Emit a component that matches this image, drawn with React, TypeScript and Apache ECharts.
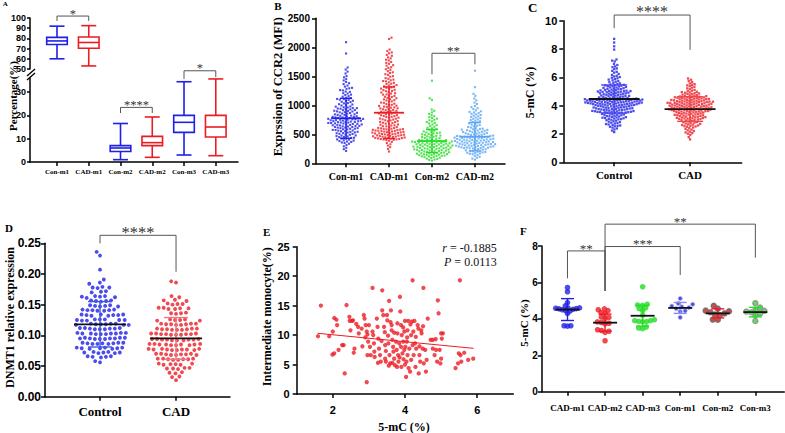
import React, { useEffect, useRef } from "react";
import * as echarts from "echarts";

const BLUE = "#1f1fe6";
const RED = "#ec1c24";
const GREEN = "#26dc26";
const LBLUE = "#5aa5f2";
const SERIF = '"Liberation Serif", "Times New Roman", serif';
const SANS = '"Liberation Sans", Arial, sans-serif';

// ---------- Panel A ----------
const aCats = ["Con-m1", "CAD-m1", "Con-m2", "CAD-m2", "Con-m3", "CAD-m3"];
const aPos = [1, 2, 3, 4, 5, 6];
const aTopTicks = [50, 60, 70, 80, 90, 100];
const aBotTicks = [0, 10, 20, 30];
// [min, Q1, median, Q3, max]
const aBoxes = [
  [60, 74, 77.5, 81, 92],
  [53, 70.3, 76, 81.4, 92.5],
  [1, 4.5, 6, 7, 16.5],
  [2, 7, 8.3, 11, 19.3],
  [3, 12.7, 17, 20, 34.4],
  [2.7, 10.7, 15, 20, 35.6],
];
const aColors = [BLUE, RED, BLUE, RED, BLUE, RED];
const aSigTop = [[1, 2, 101.9, 97.1, 97.1]];
const aSigTopLabels = ["*"];
const aSigBot = [
  [3, 4, 23.4, 21.0, 21.0],
  [5, 6, 39.1, 35.6, 36.4],
];
const aSigBotLabels = ["****", "*"];

// ---------- Panel B ----------
const bCats = ["Con-m1", "CAD-m1", "Con-m2", "CAD-m2"];
const bTicks = [0, 500, 1000, 1500, 2000, 2500];
const bConM1 = [
  2088, 1893, 1652, 1617, 1581, 1548, 1503, 1482, 1451, 1428,
  1402, 1381, 1366, 1341, 1323, 1301, 1293,
  1284, 1262, 1257, 1238, 1231, 1209, 1203, 1184, 1176, 1158, 1149, 1131, 1124, 1109, 1106, 1097,
  1093, 1079, 1074, 1061, 1055, 1038, 1033, 1019, 1014, 1001, 996, 981, 977, 966, 962, 953, 951, 944,
  942, 931, 929, 918, 916, 906, 904, 895, 893, 881, 879, 870, 868, 858, 857, 846, 844, 834, 832, 822, 819, 811, 809, 801,
  799, 792, 790, 783, 781, 774, 773, 767, 765, 759, 758, 751, 750, 743, 742, 736, 734, 727, 726, 719, 718, 712, 710, 703, 702, 695, 694, 688, 686, 680, 678, 671, 670, 663, 662, 655,
  653, 645, 644, 636, 634, 627, 626, 617, 615, 607, 605, 597, 596, 587, 585, 576, 574, 566, 563, 555, 553, 544, 541, 533, 530, 521, 518, 509, 506,
  497, 492, 481, 478, 469, 464, 455, 451, 441, 438, 427, 423, 412, 408, 397, 393, 384, 376, 368, 359, 351,
  338, 316, 293, 268, 243, 214,
];
const bCadM1 = [
  2166, 2143, 1961, 1934, 1912, 1897, 1869, 1853, 1826, 1809, 1786, 1774, 1748, 1731, 1716, 1692, 1683, 1657, 1645, 1621, 1611, 1588, 1569, 1558, 1536, 1524, 1502, 1493, 1468, 1457,
  1443, 1431, 1418, 1413, 1396, 1387, 1372, 1366, 1348, 1342, 1327, 1324, 1309, 1302, 1288, 1283, 1267, 1262, 1248, 1243, 1228, 1222, 1209, 1203, 1188, 1184, 1167, 1162, 1148, 1144, 1128, 1122, 1107, 1102, 1089, 1083, 1068, 1062, 1047, 1043, 1028, 1022, 1008, 1004,
  993, 989, 978, 973, 963, 959, 948, 946, 934, 931, 919, 916, 904, 901, 890, 886, 875, 872, 860, 857, 846, 842, 831, 828, 816, 813, 802, 798, 787, 784, 772, 769, 758, 754, 743, 739, 728, 725, 714, 710, 699, 695, 684, 681, 669, 666, 655, 651, 640, 637, 625, 622, 611, 607, 602,
  597, 594, 589, 586, 581, 578, 573, 570, 565, 562, 557, 554, 549, 546, 541, 538, 533, 530, 525, 522, 517, 514, 509, 506, 501, 498, 493, 490, 485, 482, 477, 474, 469, 466, 461, 458, 453, 450, 445, 442, 437, 434, 429, 426, 421, 418, 413, 410, 405, 402,
  388, 369, 351, 328, 306, 279, 248, 203,
];
const bConM2 = [
  1424, 1121, 1093, 928, 906, 877, 853, 829, 811,
  796, 781, 769, 751, 742, 723, 711, 697, 686, 668, 657, 641, 629, 613, 604, 588, 577, 561,
  549, 542, 533, 528, 519, 514, 505, 500, 491, 487, 478, 473, 464, 459, 451, 446, 437, 432, 424, 418, 411, 404,
  399, 397, 392, 389, 385, 384, 378, 375, 372, 368, 364, 361, 357, 356, 350, 347, 344, 339, 337, 333, 328, 326, 322, 319, 315, 313, 307, 305, 301, 298, 293, 291, 287, 283, 280, 277, 272, 270, 266, 262, 259, 257, 252, 249, 245, 241, 238, 234,
  229, 227, 221, 219, 214, 210, 206, 203, 197, 195, 190, 186, 182, 179, 173, 171, 166, 163, 158, 154, 150, 146, 141, 139, 134, 130, 126, 121, 118, 112,
  106, 97, 91, 81, 75, 64, 57, 44,
];
const bCadM2 = [
  1597, 1312, 1198, 1163, 1118, 1084, 1047, 1021,
  987, 968, 951, 934, 912,
  897, 887, 876, 866, 853, 844, 833, 822, 811, 800, 789, 778, 768, 757, 745, 736, 724, 713, 703, 691, 681, 669, 659, 648, 637, 626, 616, 605,
  597, 592, 587, 581, 576, 571, 566, 560, 555, 550, 545, 539, 534, 529, 524, 518, 513, 508, 503, 497, 492, 486,
  479, 477, 472, 470, 466, 463, 459, 456, 452, 450, 446, 442, 439, 436, 432, 429, 425, 422, 419, 415, 411, 409, 405, 402, 398, 395, 391, 388, 385, 381, 377, 375, 371, 367, 364, 361, 358, 354, 350, 347, 344, 341, 337, 334, 330, 327, 324, 320, 317, 313, 310, 307, 303, 300, 296, 293, 289, 286, 283, 279, 276, 272, 269, 266, 262, 259, 255,
  248, 242, 236, 230, 224, 218, 212, 206, 200, 194, 188, 182, 176, 170, 164, 157,
  146, 128, 112, 96, 81, 63,
];
const bMeans = [776, 872, 384, 459];
const bSds = [345, 445, 200, 245];
const bColors = [BLUE, RED, GREEN, LBLUE];
const bSig = [[3, 4, 1897, 1534, 1707]];
const bSigLabels = ["**"];

// ---------- Panel C ----------
const cCats = ["Control", "CAD"];
const cTicks = [0, 2, 4, 6, 8, 10];
const cControl = [
  8.72, 8.46, 8.19, 7.96, 7.26, 7.18, 7.12,
  6.94, 6.87, 6.77, 6.72, 6.63, 6.58, 6.46, 6.39, 6.33, 6.24, 6.17, 6.11, 6.06, 6.02,
  5.97, 5.93, 5.88, 5.84, 5.79, 5.73, 5.69, 5.66, 5.61, 5.57, 5.52,
  5.49, 5.47, 5.46, 5.43, 5.41, 5.38, 5.37, 5.35, 5.32, 5.29, 5.28, 5.26, 5.23, 5.21, 5.19, 5.18, 5.16, 5.13, 5.11, 5.09, 5.08, 5.06, 5.04, 5.03, 5.02, 5.01, 5.0,
  4.99, 4.97, 4.96, 4.95, 4.93, 4.92, 4.9, 4.88, 4.87, 4.85, 4.84, 4.82, 4.8, 4.79, 4.77, 4.76, 4.74, 4.72, 4.71, 4.69, 4.68, 4.66, 4.64, 4.63, 4.61, 4.6, 4.58, 4.57, 4.55, 4.54, 4.52, 4.51, 4.5,
  4.49, 4.48, 4.47, 4.46, 4.46, 4.45, 4.44, 4.43, 4.42, 4.41, 4.41, 4.4, 4.39, 4.38, 4.37, 4.36, 4.36, 4.35, 4.34, 4.33, 4.32, 4.31, 4.31, 4.3, 4.29, 4.28, 4.27, 4.26, 4.26, 4.25, 4.24, 4.23, 4.22, 4.21, 4.21, 4.2, 4.19, 4.18, 4.17, 4.16, 4.16, 4.15, 4.14, 4.13, 4.12, 4.11, 4.11, 4.1, 4.09, 4.08, 4.07, 4.06, 4.05, 4.04, 4.03, 4.02, 4.01,
  3.99, 3.98, 3.97, 3.96, 3.95, 3.93, 3.92, 3.91, 3.9, 3.88, 3.87, 3.86, 3.85, 3.83, 3.82, 3.81, 3.8, 3.78, 3.77, 3.76, 3.75, 3.73, 3.72, 3.71, 3.7, 3.68, 3.67, 3.66, 3.65, 3.63, 3.62, 3.61, 3.6, 3.58, 3.57, 3.56, 3.55, 3.54, 3.53, 3.52, 3.51, 3.5,
  3.48, 3.46, 3.44, 3.42, 3.4, 3.38, 3.36, 3.34, 3.32, 3.29, 3.27, 3.25, 3.23, 3.21, 3.19, 3.17, 3.15, 3.13, 3.11, 3.09, 3.07, 3.05, 3.03, 3.01,
  2.97, 2.94, 2.9, 2.87, 2.84, 2.8, 2.77, 2.74, 2.7, 2.67, 2.64, 2.6, 2.57, 2.54, 2.51,
  2.45, 2.39, 2.32, 2.24, 2.13,
];
const cCad = [
  5.92, 5.83, 5.74, 5.66,
  5.57, 5.52, 5.47, 5.43, 5.38, 5.33, 5.27, 5.22, 5.16, 5.11, 5.06, 5.02,
  4.98, 4.96, 4.93, 4.91, 4.88, 4.86, 4.83, 4.81, 4.78, 4.76, 4.73, 4.71, 4.69, 4.67, 4.65, 4.63, 4.62, 4.6,
  4.59, 4.58, 4.56, 4.55, 4.54, 4.53, 4.51, 4.5, 4.49, 4.47, 4.46, 4.45, 4.44, 4.42, 4.41, 4.4, 4.38, 4.37, 4.36, 4.35, 4.33, 4.32, 4.31, 4.3,
  4.29, 4.28, 4.28, 4.26, 4.25, 4.25, 4.23, 4.22, 4.2, 4.2, 4.19, 4.17, 4.17, 4.16, 4.14, 4.13, 4.13, 4.11, 4.1, 4.1, 4.08, 4.07, 4.05, 4.05, 4.04, 4.02, 4.01, 4.0, 4.0, 3.98, 3.97, 3.96, 3.95, 3.93, 3.93, 3.91, 3.9, 3.89, 3.88, 3.86, 3.86, 3.85, 3.83, 3.82, 3.81, 3.8, 3.79, 3.77, 3.77, 3.75, 3.74, 3.73, 3.72, 3.71, 3.69, 3.69, 3.67, 3.66, 3.65, 3.64, 3.62, 3.62, 3.61, 3.6,
  3.59, 3.57, 3.56, 3.54, 3.53, 3.51, 3.5, 3.48, 3.46, 3.45, 3.43, 3.42, 3.4, 3.38, 3.37, 3.35, 3.34, 3.32, 3.3, 3.29, 3.27, 3.26, 3.24, 3.22, 3.21, 3.19, 3.18, 3.16, 3.14, 3.13, 3.11, 3.1, 3.08, 3.06, 3.05, 3.03, 3.02, 3.0,
  2.97, 2.94, 2.91, 2.88, 2.85, 2.83, 2.8, 2.77, 2.74, 2.71, 2.68, 2.66, 2.63, 2.6, 2.58, 2.55, 2.53, 2.51,
  2.46, 2.41, 2.36, 2.31, 2.26, 2.21, 2.16, 2.11, 2.06, 2.02,
  1.93, 1.78, 1.62,
];
const cMeans = [4.47, 3.76];
const cSds = [0.99, 0.87];
const cSig = [[1, 2, 10.4, 9.47, 7.94]];
const cSigLabels = ["****"];

// ---------- Panel D ----------
const dCats = ["Control", "CAD"];
const dTicks = [0, 0.05, 0.1, 0.15, 0.2, 0.25];
const dControl = [
  0.236, 0.23, 0.207, 0.191, 0.186, 0.184,
  0.179, 0.178, 0.177, 0.178,
  0.172, 0.17, 0.171,
  0.164, 0.163, 0.162, 0.164, 0.163, 0.161,
  0.157, 0.156, 0.155, 0.156, 0.157,
  0.149, 0.148, 0.147, 0.148, 0.149, 0.147,
  0.142, 0.141, 0.14, 0.141, 0.142, 0.14, 0.141,
  0.134, 0.133, 0.132, 0.133, 0.134, 0.132, 0.133, 0.134,
  0.126, 0.125, 0.124, 0.125, 0.126, 0.124, 0.125, 0.126,
  0.119, 0.118, 0.117, 0.118, 0.119, 0.117, 0.118, 0.119, 0.117,
  0.112, 0.111, 0.11, 0.111, 0.112, 0.11, 0.111, 0.112, 0.11,
  0.104, 0.103, 0.102, 0.103, 0.104, 0.102, 0.103, 0.104, 0.102, 0.103,
  0.096, 0.095, 0.094, 0.095, 0.096, 0.094, 0.095, 0.096, 0.094, 0.095,
  0.088, 0.087, 0.086, 0.087, 0.088, 0.086, 0.087, 0.088, 0.086,
  0.08, 0.079, 0.078, 0.079, 0.08, 0.078, 0.079, 0.08,
  0.073, 0.072, 0.071, 0.072, 0.073, 0.071, 0.072,
  0.066, 0.065, 0.064, 0.065, 0.066,
  0.058, 0.056,
];
const dCad = [
  0.188, 0.186,
  0.164, 0.162,
  0.158, 0.157, 0.156,
  0.151, 0.15, 0.151, 0.152,
  0.145, 0.144, 0.143, 0.144, 0.145, 0.143,
  0.137, 0.136, 0.135, 0.136,
  0.126, 0.125, 0.124, 0.125, 0.126, 0.124,
  0.119, 0.118, 0.117, 0.118, 0.119, 0.117, 0.118, 0.119,
  0.111, 0.11, 0.109, 0.11, 0.111, 0.109, 0.11, 0.111, 0.109,
  0.103, 0.102, 0.101, 0.102, 0.103, 0.101, 0.102, 0.103, 0.101, 0.102,
  0.094, 0.093, 0.092, 0.093, 0.094, 0.092, 0.093, 0.094, 0.092, 0.093,
  0.086, 0.085, 0.084, 0.085, 0.086, 0.084, 0.085, 0.086, 0.084, 0.085,
  0.078, 0.077, 0.076, 0.077, 0.078, 0.076, 0.077, 0.078, 0.076, 0.077,
  0.07, 0.069, 0.068, 0.069, 0.07, 0.068, 0.069, 0.07, 0.068,
  0.062, 0.061, 0.06, 0.061, 0.062, 0.06, 0.061, 0.062,
  0.054, 0.053, 0.052, 0.053, 0.054, 0.052,
  0.047, 0.046, 0.045, 0.046, 0.047,
  0.04, 0.039, 0.038,
  0.033, 0.032,
  0.027,
];
const dMeans = [0.118, 0.095];
const dSds = [0.037, 0.034];
const dSig = [[1, 2, 0.263, 0.25, 0.2036]];
const dSigLabels = ["****"];

// ---------- Panel E ----------
const eXTicks = [2, 4, 6];
const eYTicks = [0, 5, 10, 15, 20, 25];
const ePoints = [
  [1.59, 9.8], [1.67, 15.0], [1.9, 9.8], [2.0, 10.6], [2.04, 12.9], [2.1, 12.6], [2.12, 11.7], [1.99, 6.7], [2.04, 6.9], [2.16, 7.5],
  [2.26, 8.3], [2.3, 8.3], [2.33, 3.5], [2.38, 15.1], [2.46, 13.1], [2.47, 12.4], [2.49, 10.8], [2.53, 12.4], [2.56, 12.5], [2.6, 7.7],
  [2.58, 7.0], [2.7, 11.4], [2.72, 10.3], [2.8, 11.1], [2.82, 8.1], [2.86, 13.4], [2.88, 12.8], [2.91, 11.7], [2.94, 10.6], [2.96, 10.1],
  [2.98, 8.9], [2.96, 6.6], [2.94, 2.0], [3.0, 11.7], [3.03, 8.0], [3.05, 6.6], [3.1, 18.0], [3.1, 10.6], [3.12, 10.0], [3.14, 8.6],
  [3.16, 6.3], [3.22, 12.8], [3.24, 11.4], [3.26, 9.4], [3.28, 7.7], [3.31, 6.6], [3.33, 5.5], [3.37, 17.6], [3.37, 14.2], [3.4, 13.4],
  [3.42, 11.4], [3.44, 10.5], [3.45, 8.3], [3.47, 7.3], [3.47, 5.5], [3.5, 13.4], [3.51, 12.5], [3.53, 9.9], [3.54, 8.6], [3.56, 15.8],
  [3.57, 6.6], [3.59, 5.2], [3.61, 14.2], [3.63, 11.7], [3.63, 10.8], [3.65, 9.2], [3.67, 8.0], [3.68, 7.2], [3.7, 6.0], [3.72, 4.9],
  [3.75, 8.9], [3.77, 7.5], [3.79, 12.0], [3.79, 10.3], [3.81, 6.6], [3.82, 5.5], [3.84, 8.6], [3.86, 16.5], [3.87, 14.0], [3.89, 11.7],
  [3.89, 8.0], [3.9, 4.6], [3.91, 10.0], [3.93, 6.9], [3.95, 8.9], [3.96, 5.9], [3.98, 10.6], [3.98, 7.5], [4.0, 12.4], [4.01, 8.0],
  [4.03, 2.9], [4.04, 5.5], [4.05, 8.9], [4.07, 10.8], [4.07, 6.6], [4.09, 12.4], [4.1, 4.4], [4.12, 7.7], [4.14, 3.8], [4.17, 10.0],
  [4.17, 5.8], [4.19, 12.3], [4.21, 19.3], [4.21, 8.3], [4.23, 10.6], [4.24, 6.6], [4.26, 12.4], [4.28, 8.6], [4.29, 4.6], [4.31, 7.7],
  [4.35, 11.7], [4.37, 11.1], [4.38, 3.5], [4.4, 6.6], [4.42, 5.5], [4.45, 10.8], [4.46, 10.3], [4.49, 7.7], [4.51, 18.0], [4.52, 5.2],
  [4.56, 7.5], [4.58, 3.8], [4.63, 12.8], [4.71, 9.2], [4.77, 9.2], [4.77, 7.7], [4.82, 6.6], [4.86, 7.5], [4.89, 5.5], [4.91, 15.9],
  [4.93, 13.7], [4.96, 7.5], [4.98, 5.2], [5.0, 6.0], [5.0, 10.3], [5.02, 9.4], [5.05, 10.3], [5.4, 4.4], [5.47, 5.2], [5.49, 6.9],
  [5.52, 19.3], [5.54, 6.6], [5.56, 5.5], [5.64, 7.0], [5.75, 5.8], [5.89, 6.0], [3.78, 4.6], [3.35, 9.0], [3.6, 12.2], [3.7, 10.4],
  [3.85, 6.2], [3.95, 11.3], [4.06, 9.6], [4.15, 11.8], [4.3, 9.7], [4.4, 8.1], [3.25, 5.3], [3.55, 4.8], [4.0, 5.0], [4.6, 5.8],
  [3.15, 7.2], [2.9, 9.6], [2.65, 11.9], [4.5, 11.5], [4.85, 9.3], [3.45, 6.0], [3.65, 5.3],
];
const eLineX = [1.58, 5.9];
const eLineY = [10.3, 7.75];

// ---------- Panel F ----------
const fCats = ["CAD-m1", "CAD-m2", "CAD-m3", "Con-m1", "Con-m2", "Con-m3"];
const fTicks = [0, 2, 4, 6, 8];
const fCadM1 = [5.72, 5.49, 4.89, 4.71, 4.6, 4.6, 4.58, 4.56, 4.55, 4.52, 4.5, 4.46, 4.43, 4.3, 3.62, 3.62, 3.6];
const fCadM2 = [4.55, 4.5, 4.45, 4.35, 4.3, 4.1, 4.08, 4.02, 3.83, 3.8, 3.76, 3.72, 3.4, 3.36, 3.32, 3.26, 2.8];
const fCadM3 = [5.76, 4.8, 4.76, 4.74, 4.6, 4.56, 4.45, 4.2, 3.95, 3.9, 3.9, 3.86, 3.85, 3.84, 3.55, 3.5, 3.46];
const fConM1 = [5.12, 4.85, 4.8, 4.7, 4.66, 4.62, 4.56, 4.44, 4.4, 4.08];
const fConM2 = [4.72, 4.56, 4.45, 4.42, 4.36, 4.3, 4.24, 4.2, 3.96, 3.95];
const fConM3 = [4.86, 4.62, 4.5, 4.44, 4.4, 4.36, 4.3, 4.2, 3.88];
const fMeans = [4.51, 3.79, 4.17, 4.6, 4.3, 4.37];
const fSds = [0.6, 0.47, 0.57, 0.3, 0.25, 0.26];
const fSig = [
  [1, 2, 7.73, 6.23, 5.53],
  [2, 4, 7.97, 5.53, 6.41],
  [2, 6, 9.2, 5.53, 7.36],
];
const fSigLabels = ["**", "***", "**"];

// ---------- layout ----------
const GRIDS: any = {
  aTop: { left: 30, top: 18, width: 208, height: 51 },
  aBot: { left: 30, top: 78, width: 208, height: 84 },
  b: { left: 316, top: 18.3, width: 189, height: 145 },
  c: { left: 563.3, top: 20.7, width: 178.4, height: 141.6 },
  d: { left: 45, top: 243.3, width: 185, height: 153.4 },
  e: { left: 296.7, top: 246.7, width: 216.6, height: 147.3 },
  f: { left: 541.7, top: 246, width: 242.6, height: 145.7 },
};
const XR: any = { aTop: [0.15, 6.7], aBot: [0.15, 6.7], b: [0.3, 4.7], c: [0.33, 2.68], d: [0.276, 2.71], e: [1, 7], f: [0.314, 6.77] };
const YR: any = { aTop: [50, 100], aBot: [0, 36], b: [0, 2500], c: [0, 10], d: [0, 0.25], e: [0, 25], f: [0, 8] };
const KEYS = ["aTop", "aBot", "b", "c", "d", "e", "f"];
const BRACKET = "#555555";

function swarm(vals: number[], pos: number, key: string, diam: number) {
  const g = GRIDS[key];
  const xpx = g.width / (XR[key][1] - XR[key][0]);
  const ypx = g.height / (YR[key][1] - YR[key][0]);
  const sorted = vals.slice().sort((a, b) => a - b);
  const placed: { x: number; y: number }[] = [];
  const out: number[][] = [];
  let side = 1;
  for (const v of sorted) {
    const y = v * ypx;
    const iv: number[][] = [];
    for (let k = placed.length - 1; k >= 0; k--) {
      const dy = y - placed[k].y;
      if (dy >= diam) break;
      const dx = Math.sqrt(diam * diam - dy * dy);
      iv.push([placed[k].x - dx, placed[k].x + dx]);
    }
    const cands = [0];
    iv.forEach(([a, b]) => cands.push(a, b));
    cands.sort((p, q) => Math.abs(p) - Math.abs(q) || side * (q - p));
    let x = 0;
    for (const c of cands) {
      if (iv.every(([a, b]) => c <= a + 1e-6 || c >= b - 1e-6)) { x = c; break; }
    }
    side = -side;
    placed.push({ x, y });
    out.push([pos + x / xpx, v]);
  }
  return out;
}

function xAx(gi: number, key: string, ticks: number[], names: string[] | null, fontSize: number, margin: number, show = true) {
  return {
    type: "value", gridIndex: gi, min: XR[key][0], max: XR[key][1], show,
    splitLine: { show: false },
    axisLine: { show: true, onZero: false, lineStyle: { color: "#000", width: 1.5 } },
    axisTick: { show: true, length: 4, customValues: ticks, lineStyle: { color: "#000", width: 1.5 } },
    axisLabel: {
      show: true, customValues: ticks, margin, color: "#000", fontWeight: "bold",
      fontFamily: names ? SERIF : SANS, fontSize,
      formatter: (v: number) => {
        if (!names) return String(v);
        const i = ticks.findIndex((t) => Math.abs(t - v) < 1e-6);
        return i >= 0 ? names[i] : "";
      },
    },
  };
}

function yAx(gi: number, key: string, ticks: number[], fontSize: number, margin: number, tickLen: number, fmt?: (v: number) => string) {
  return {
    type: "value", gridIndex: gi, min: YR[key][0], max: YR[key][1],
    splitLine: { show: false },
    axisLine: { show: true, onZero: false, lineStyle: { color: "#000", width: 1.5 } },
    axisTick: { show: true, length: tickLen, customValues: ticks, lineStyle: { color: "#000", width: 1.5 } },
    axisLabel: {
      show: true, customValues: ticks, margin, color: "#000", fontWeight: "bold", fontFamily: SANS, fontSize,
      formatter: fmt || ((v: number) => String(v)),
    },
  };
}

function boxSeries(gi: number, items: number[][], colors: string[]) {
  return {
    type: "custom", xAxisIndex: gi, yAxisIndex: gi, silent: true, z: 3, data: items,
    itemStyle: { color: colors[0] },
    renderItem: (params: any, api: any) => {
      const i = params.dataIndex;
      const x = api.value(0);
      const ys = [1, 2, 3, 4, 5].map((k) => api.coord([x, api.value(k)])[1]);
      const [mn, q1, md, q3, mx] = ys;
      const cx = api.coord([x, api.value(3)])[0];
      const st = { stroke: colors[i], lineWidth: 1.6, fill: "none" };
      const hw = 10.3, cw = 7.5;
      return {
        type: "group",
        children: [
          { type: "rect", shape: { x: cx - hw, y: q3, width: 2 * hw, height: q1 - q3 }, style: st },
          { type: "line", shape: { x1: cx - hw, y1: md, x2: cx + hw, y2: md }, style: st },
          { type: "line", shape: { x1: cx, y1: q3, x2: cx, y2: mx }, style: st },
          { type: "line", shape: { x1: cx, y1: q1, x2: cx, y2: mn }, style: st },
          { type: "line", shape: { x1: cx - cw, y1: mx, x2: cx + cw, y2: mx }, style: st },
          { type: "line", shape: { x1: cx - cw, y1: mn, x2: cx + cw, y2: mn }, style: st },
        ],
      };
    },
  };
}

function bracketSeries(gi: number, items: number[][], labels: string[], fontSize: number) {
  return {
    type: "custom", xAxisIndex: gi, yAxisIndex: gi, silent: true, z: 6, data: items,
    itemStyle: { color: BRACKET },
    renderItem: (params: any, api: any) => {
      const x1 = api.value(0), x2 = api.value(1), yt = api.value(2), d1 = api.value(3), d2 = api.value(4);
      const p1 = api.coord([x1, yt]), p2 = api.coord([x2, yt]);
      const q1 = api.coord([x1, d1]), q2 = api.coord([x2, d2]);
      return {
        type: "group",
        children: [
          { type: "polyline", shape: { points: [q1, p1, p2, q2] }, style: { stroke: BRACKET, lineWidth: 1, fill: "none" } },
          {
            type: "text",
            style: {
              text: labels[params.dataIndex], x: (p1[0] + p2[0]) / 2, y: p1[1] - fontSize * 0.2,
              align: "center", verticalAlign: "middle",
              fontSize, fontFamily: SERIF, fill: "#333333",
            },
          },
        ],
      };
    },
  };
}

function meanSdSeries(gi: number, data: number[][], meanColors: string[], sdColors: string[], meanHalf: number, capHalf: number) {
  return {
    type: "custom", xAxisIndex: gi, yAxisIndex: gi, silent: true, z: 5, data,
    itemStyle: { color: "#111111" },
    renderItem: (params: any, api: any) => {
      const i = params.dataIndex;
      const x = api.value(0), m = api.value(1), s = api.value(2);
      const c = api.coord([x, m]), t = api.coord([x, m + s]), b = api.coord([x, m - s]);
      const sd = { stroke: sdColors[i], lineWidth: 1.4 };
      return {
        type: "group",
        children: [
          { type: "line", shape: { x1: t[0], y1: t[1], x2: b[0], y2: b[1] }, style: sd },
          { type: "line", shape: { x1: t[0] - capHalf, y1: t[1], x2: t[0] + capHalf, y2: t[1] }, style: sd },
          { type: "line", shape: { x1: b[0] - capHalf, y1: b[1], x2: b[0] + capHalf, y2: b[1] }, style: sd },
          { type: "line", shape: { x1: c[0] - meanHalf, y1: c[1], x2: c[0] + meanHalf, y2: c[1] }, style: { stroke: meanColors[i], lineWidth: 1.8 } },
        ],
      };
    },
  };
}

function dots(gi: number, key: string, vals: number[], pos: number, diam: number, symbol: string, size: number, itemStyle: any) {
  return {
    type: "scatter", xAxisIndex: gi, yAxisIndex: gi, silent: true, z: 2,
    symbol, symbolSize: size, itemStyle,
    data: swarm(vals, pos, key, diam),
  };
}

function buildOption() {
  const series: any[] = [];
  // A
  series.push(boxSeries(0, aBoxes.slice(0, 2).map((b, i) => [aPos[i], ...b]), aColors.slice(0, 2)));
  series.push(bracketSeries(0, aSigTop, aSigTopLabels, 12.5));
  series.push(boxSeries(1, aBoxes.slice(2).map((b, i) => [aPos[i + 2], ...b]), aColors.slice(2)));
  series.push(bracketSeries(1, aSigBot, aSigBotLabels, 12.5));
  // B
  [bConM1, bCadM1, bConM2, bCadM2].forEach((vals, i) =>
    series.push(dots(2, "b", vals, i + 1, 2.8, "rect", 2.1, { color: bColors[i] }))
  );
  series.push(meanSdSeries(2, bMeans.map((m, i) => [i + 1, m, bSds[i]]), bColors, bColors, 15, 6));
  series.push(bracketSeries(2, bSig, bSigLabels, 13));
  // C
  series.push(dots(3, "c", cControl, 1, 2.65, "rect", 2.3, { color: BLUE }));
  series.push(dots(3, "c", cCad, 2, 2.65, "rect", 2.3, { color: RED }));
  series.push(meanSdSeries(3, cMeans.map((m, i) => [i + 1, m, cSds[i]]), ["#111", "#111"], ["#4545f0", "#f04545"], 25.5, 13));
  series.push(bracketSeries(3, cSig, cSigLabels, 16));
  // D
  series.push(dots(4, "d", dControl, 1, 5, "circle", 3.9, { color: BLUE }));
  series.push(dots(4, "d", dCad, 2, 5, "circle", 3.9, { color: RED }));
  series.push(meanSdSeries(4, dMeans.map((m, i) => [i + 1, m, dSds[i]]), ["#111", "#111"], ["#3d5be0", "#e8798a"], 26, 12));
  series.push(bracketSeries(4, dSig, dSigLabels, 16.5));
  // E
  series.push({
    type: "scatter", xAxisIndex: 5, yAxisIndex: 5, silent: true, z: 2,
    symbol: "circle", symbolSize: 4.3, itemStyle: { color: RED }, data: ePoints,
  });
  series.push({
    type: "line", xAxisIndex: 5, yAxisIndex: 5, silent: true, z: 3, symbol: "none",
    lineStyle: { color: RED, width: 1 }, data: eLineX.map((x, i) => [x, eLineY[i]]),
  });
  // F
  const fGroups = [fCadM1, fCadM2, fCadM3, fConM1, fConM2, fConM3];
  const fStyles = [
    { diam: 3.4, size: 5.6, style: { color: BLUE } },
    { diam: 4, size: 5.6, style: { color: RED } },
    { diam: 4, size: 5.6, style: { color: GREEN } },
    { diam: 5, size: 4.2, style: { color: BLUE, borderColor: "#bcc0ee", borderWidth: 1 } },
    { diam: 5, size: 5.2, style: { color: "#c41e1e", borderColor: "#666", borderWidth: 1.3 } },
    { diam: 5, size: 5.2, style: { color: "#3ad23a", borderColor: "#8a8a8a", borderWidth: 1.3 } },
  ];
  fGroups.forEach((vals, i) =>
    series.push(dots(6, "f", vals, i + 1, fStyles[i].diam, "circle", fStyles[i].size, fStyles[i].style))
  );
  series.push(meanSdSeries(6, fMeans.map((m, i) => [i + 1, m, fSds[i]]), fCats.map(() => "#111"), [BLUE, RED, GREEN, "#8a8af0", RED, GREEN], 12, 6.5));
  series.push(bracketSeries(6, fSig, fSigLabels, 13));

  const rot = (text: string, x: number, y: number, size: number) => ({
    type: "text", x, y, rotation: Math.PI / 2, silent: true,
    style: { text, font: `bold ${size}px ${SERIF}`, textAlign: "center", textVerticalAlign: "middle", fill: "#000" },
  });
  const letter = (text: string, x: number, y: number, size: number) => ({
    type: "text", x, y, silent: true,
    style: { text, font: `bold ${size}px ${SERIF}`, textAlign: "left", textVerticalAlign: "middle", fill: "#000" },
  });
  const graphic = [
    rot("Percentage(%)", 12.7, 96, 11),
    rot("Exprssion of CCR2 (MFI)", 278.3, 86.7, 12.5),
    rot("5-mC (%)", 530, 92.5, 12),
    rot("DNMT1 relative expression", 9.5, 317.5, 12),
    rot("Intermediate monocyte(%)", 266.7, 316.7, 12),
    rot("5-mC (%)", 524, 323, 11),
    {
      type: "text", x: 404, y: 426.7, silent: true,
      style: { text: "5-mC (%)", font: `bold 12px ${SERIF}`, textAlign: "center", textVerticalAlign: "middle", fill: "#000" },
    },
    letter("A", 2.7, 4, 7),
    letter("B", 274.3, 5.5, 11),
    letter("C", 528, 7.2, 13),
    letter("D", 5, 228, 11),
    letter("E", 263, 232, 11),
    letter("F", 520, 231.3, 11),
    {
      type: "text", x: 496.7, y: 248.3, silent: true,
      style: {
        text: "{i|r} = -0.1885", fontFamily: "Liberation Serif", fontSize: 12, fill: "#111",
        textAlign: "right", textVerticalAlign: "middle",
        rich: { i: { fontStyle: "italic", fontFamily: "Liberation Serif", fontSize: 12, fill: "#111" } },
      },
    },
    {
      type: "text", x: 496.7, y: 261.7, silent: true,
      style: {
        text: "{i|P} = 0.0113", fontFamily: "Liberation Serif", fontSize: 12, fill: "#111",
        textAlign: "right", textVerticalAlign: "middle",
        rich: { i: { fontStyle: "italic", fontFamily: "Liberation Serif", fontSize: 12, fill: "#111" } },
      },
    },
    { type: "rect", silent: true, shape: { x: 28, y: 71, width: 4, height: 6.5 }, style: { fill: "#fff" } },
    { type: "line", silent: true, shape: { x1: 27, y1: 76, x2: 35, y2: 69 }, style: { stroke: "#000", lineWidth: 1.3 } },
    { type: "line", silent: true, shape: { x1: 27, y1: 80, x2: 35, y2: 73 }, style: { stroke: "#000", lineWidth: 1.3 } },
  ];

  return {
    animation: false,
    backgroundColor: "#fff",
    grid: KEYS.map((k) => ({ ...GRIDS[k], containLabel: false, outerBoundsMode: "none" })),
    xAxis: [
      xAx(0, "aTop", aPos, aCats, 7, 6, false),
      xAx(1, "aBot", aPos, aCats, 7, 6),
      xAx(2, "b", [1, 2, 3, 4], bCats, 10, 8),
      xAx(3, "c", [1, 2], cCats, 11, 7),
      xAx(4, "d", [1, 2], dCats, 13, 8),
      xAx(5, "e", eXTicks, null, 11, 10),
      xAx(6, "f", [1, 2, 3, 4, 5, 6], fCats, 9, 12),
    ],
    yAxis: [
      yAx(0, "aTop", aTopTicks, 9, 4, 3),
      yAx(1, "aBot", aBotTicks, 9, 4, 3),
      yAx(2, "b", bTicks, 10, 6, 4),
      yAx(3, "c", cTicks, 11, 6, 4),
      yAx(4, "d", dTicks, 12, 4, 4, (v: number) => v.toFixed(2)),
      yAx(5, "e", eYTicks, 11, 7, 4),
      yAx(6, "f", fTicks, 10, 4, 4),
    ],
    graphic,
    series,
  };
}

export default function App() {
  const ref = useRef<HTMLDivElement>(null);
  useEffect(() => {
    document.body.style.margin = "0";
    if (!ref.current) return;
    const chart = echarts.init(ref.current, null, { renderer: "svg" });
    chart.setOption(buildOption() as any);
    return () => chart.dispose();
  }, []);
  return <div ref={ref} style={{ position: "absolute", left: 0, top: 0, width: 785, height: 433 }} />;
}
